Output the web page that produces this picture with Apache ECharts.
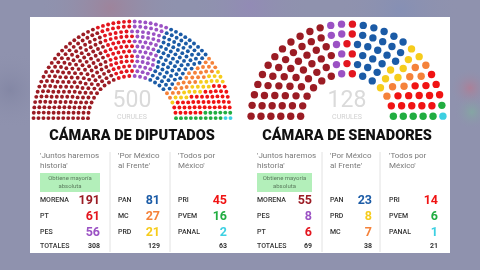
<!DOCTYPE html>
<html><head><meta charset="utf-8">
<script src="https://cdn.jsdelivr.net/npm/echarts@6/dist/echarts.min.js"></script>
<style>html,body{margin:0;padding:0;background:#8f92ae}#c{width:480px;height:270px}</style>
</head><body><div id="c"></div>
<script>
// ---- data ----
const dipParties = ['MORENA','PT','PES','PAN','MC','PRD','PRI','PVEM','PANAL'];
const dipSeats   = [191, 61, 56, 81, 27, 21, 45, 16, 2];
const senParties = ['MORENA','PES','PT','PAN','PRD','MC','PRI','PVEM','PANAL'];
const senSeats   = [55, 8, 6, 23, 8, 7, 14, 6, 1];
const coalitions = ["'Juntos haremos|historia'", "'Por México|al Frente'", "'Todos por|México'"];
const chamberTitles = ['CÁMARA DE DIPUTADOS', 'CÁMARA DE SENADORES'];
const curulLabel = 'CURULES';
const majorityNote = 'Obtiene mayoría|absoluta';
const totalsLabel = 'TOTALES';
const partyColors = {MORENA:'#9b1c24', PT:'#e3161f', PES:'#9b52c4', PAN:'#1b5ba6', MC:'#f5823a', PRD:'#f6cc1c', PRI:'#f01313', PVEM:'#21ad41', PANAL:'#3dd0e2'};

// ---- parliament layout (Richfield algorithm) ----
const ROW_TOTALS = [3,15,33,61,95,138,189,247,313,388,469,559,657,762,876,997];
function layoutSeats(total){
  let rows = 0;
  for (let i=0;i<ROW_TOTALS.length;i++){ if (ROW_TOTALS[i]>=total){ rows=i+1; break; } }
  const rad = 0.4/rows;
  const pos = [];
  let used = 0;
  for (let i=1;i<=rows;i++){
    const R = (3*rows+4*i-2)/(4*rows);
    let J;
    if (i<rows) J = Math.floor(total/ROW_TOTALS[rows-1]*Math.PI/(2*Math.asin(2/(3*rows+4*i-2))));
    else J = total-used;
    used += J;
    if (J===1) pos.push([Math.PI/2, R]);
    else for (let j=0;j<J;j++){
      const a = j*(Math.PI-2*Math.sin(rad/R))/(J-1)+Math.sin(rad/R);
      pos.push([a,R]);
    }
  }
  pos.sort((p,q)=> (q[0]-p[0]) || (q[1]*Math.cos(q[0])-p[1]*Math.cos(p[0])));
  return {pos, rows, rOut:(7*rows-2)/(4*rows), dot: rad};
}
function seriesFor(parties, seats, idx, size){
  const total = seats.reduce((a,b)=>a+b,0);
  const L = layoutSeats(total);
  let k = 0;
  const out = [];
  parties.forEach((p,pi)=>{
    const d = [];
    for (let s=0;s<seats[pi];s++){ const q=L.pos[k++]; d.push([q[1], q[0]*180/Math.PI]); }
    out.push({type:'scatter', name:p, coordinateSystem:'polar', polarIndex:idx, symbolSize:size, silent:true,
      itemStyle:{color:partyColors[p], opacity:1}, data:d, animation:false});
  });
  return {out, L, total};
}
const dip = seriesFor(dipParties, dipSeats, 0, 3.9);
const sen = seriesFor(senParties, senSeats, 1, 7.4);

const FONT = 'Roboto';
function T(x,y,text,size,color,weight,align,fam){
  return {type:'text', x:x, y:y, z:20, silent:true, style:{text:text, fontSize:size, fill:color, fontWeight:weight||'normal',
    fontFamily:fam||FONT, align:align||'left', textAlign:align||'left', verticalAlign:'middle', textVerticalAlign:'middle'}};
}

function tableGraphics(parties, seats, cx, colLeft, valRight, seps, total){
  const g = [];
  g.push(T(cx, 101, String(total), 23, '#dadada', 'normal', 'center'));
  g.push(T(cx, 117.5, curulLabel, 7, '#d0d0d0', 'normal', 'center'));
  g.push(T(cx, 136.5, chamberTitles[cx<240?0:1], 14.5, '#111', 900, 'center'));
  seps.forEach(x=> g.push({type:'line', z:5, silent:true, shape:{x1:x,y1:152,x2:x,y2:252}, style:{stroke:'#e2e2e2', lineWidth:1}}));
  g.push({type:'rect', z:5, silent:true, shape:{x:colLeft[0], y:173, width:valRight[0]-colLeft[0], height:19}, style:{fill:'#b3efba'}});
  const mn = majorityNote.split('|');
  const mcx = (colLeft[0]+valRight[0])/2;
  g.push(T(mcx, 178.5, mn[0], 6, '#5c7d5f', 'normal', 'center'));
  g.push(T(mcx, 186.5, mn[1], 6, '#5c7d5f', 'normal', 'center'));
  const rowY = [200.5, 216.5, 232.5];
  for (let c=0;c<3;c++){
    const h = coalitions[c].split('|');
    g.push(T(colLeft[c], 156, h[0], 8, '#7a7a7a'));
    g.push(T(colLeft[c], 166, h[1], 8, '#7a7a7a'));
    let sum = 0;
    for (let r=0;r<3;r++){
      const i = c*3+r; sum += seats[i];
      g.push(T(colLeft[c], rowY[r], parties[i], 7, '#333', 500));
      g.push(T(valRight[c], rowY[r]+0.5, String(seats[i]), 12.5, partyColors[parties[i]], 'bold', 'right'));
    }
    if (c===0) g.push(T(colLeft[c], 246, totalsLabel, 7, '#333', 500));
    g.push(T(valRight[c], 246, String(sum), 7, '#333', 'bold', 'right'));
  }
  return g;
}

function blob(cx, cy, r, color){
  return {type:'circle', z:-20, silent:true, shape:{cx:cx, cy:cy, r:r},
    style:{fill:{type:'radial', x:0.5, y:0.5, r:0.5, colorStops:[{offset:0,color:color},{offset:1,color:'rgba(143,146,174,0)'}]}}};
}

const graphics = [
  blob(110, 8, 70, 'rgba(170,120,140,0.55)'),
  blob(250, 6, 60, 'rgba(150,130,190,0.45)'),
  blob(400, 10, 60, 'rgba(120,140,190,0.4)'),
  blob(470, 88, 20, 'rgba(200,110,130,0.5)'),
  blob(472, 112, 18, 'rgba(120,190,150,0.45)'),
  blob(10, 90, 40, 'rgba(120,124,155,0.5)'),
  {type:'rect', z:-10, silent:true, shape:{x:30, y:17, width:420, height:236}, style:{fill:'#ffffff'}}
].concat(
  tableGraphics(dipParties, dipSeats, 132, [40,118,178], [100,160,227], [110,170], dip.total),
  tableGraphics(senParties, senSeats, 347, [257,330,389], [312,372,438], [322,380], sen.total)
);

const hidden = {show:false, axisLine:{show:false}, splitLine:{show:false}, axisLabel:{show:false}, axisTick:{show:false}};
const chart = echarts.init(document.getElementById('c'), null, {renderer:'canvas'});
chart.setOption({
  backgroundColor:'#8f92ae',
  animation:false,
  polar:[{center:[132,120], radius:98.5},{center:[347,120], radius:96}],
  angleAxis:[
    Object.assign({polarIndex:0, type:'value', min:0, max:360, startAngle:0, clockwise:false}, hidden),
    Object.assign({polarIndex:1, type:'value', min:0, max:360, startAngle:0, clockwise:false}, hidden)
  ],
  radiusAxis:[
    Object.assign({polarIndex:0, type:'value', min:0.05, max:dip.L.rOut}, hidden),
    Object.assign({polarIndex:1, type:'value', min:0.05, max:sen.L.rOut}, hidden)
  ],
  graphic:{elements:graphics},
  series: dip.out.concat(sen.out)
});
</script></body></html>
